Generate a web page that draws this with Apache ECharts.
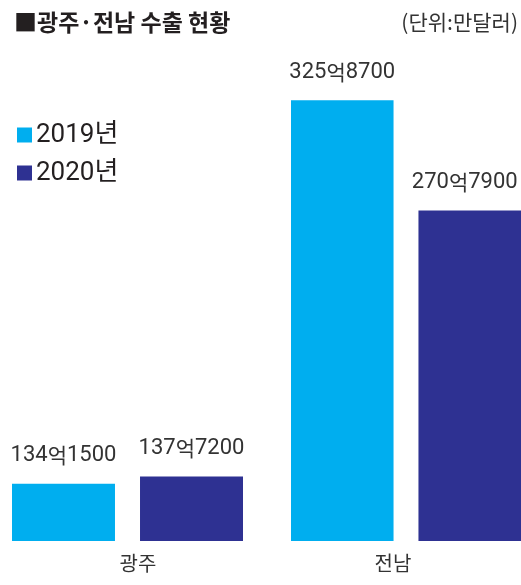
<!DOCTYPE html>
<html><head><meta charset="utf-8">
<script src="https://cdn.jsdelivr.net/npm/echarts@6/dist/echarts.min.js"></script>
<style>html,body{margin:0;padding:0;background:#fff}#c{width:521px;height:585px}</style>
</head><body><div id="c"></div>
<script>
const categories = ['광주', '전남'];
const seriesNames = ['2019년', '2020년'];
const values2019 = [1341500, 3258700];
const values2020 = [1377200, 2707900];
const colors = ['#00aeef', '#2e3192'];

const NUM = "Roboto,'Noto Sans CJK KR',sans-serif";
const KR = "'Noto Sans CJK KR',sans-serif";
const fmt = v => '{d|' + Math.floor(v / 10000) + '}{k|억}{d|' + (v % 10000) + '}';
const gridDefs = [{left: 12, width: 231}, {left: 291, width: 230}];
const labelPad = [[0, 0, 0, 21], [0, 26, 0, 0]];

const grids = [], xAxes = [], yAxes = [], series = [];
categories.forEach((cat, i) => {
  grids.push({left: gridDefs[i].left, width: gridDefs[i].width, top: 52, bottom: 44});
  xAxes.push({
    type: 'category', gridIndex: i, data: [cat],
    axisLine: {show: false}, axisTick: {show: false},
    axisLabel: {margin: 12, formatter: '{a|{value}}',
      rich: {a: {fontSize: 20, color: '#333', fontFamily: KR, padding: labelPad[i]}}}
  });
  yAxes.push({type: 'value', gridIndex: i, min: 1055000, max: 3500000, show: false, splitLine: {show: false}});
  [values2019, values2020].forEach((vals, s) => {
    series.push({
      name: seriesNames[s], type: 'bar', xAxisIndex: i, yAxisIndex: i,
      data: [vals[i]], barCategoryGap: '0%', barGap: '24.3%',
      itemStyle: {color: colors[s]},
      label: {show: true, position: 'top', distance: 17, formatter: p => fmt(p.value),
        offset: (i === 1 && s === 1) ? [-5, 0] : [0, 0],
        rich: {
          d: {fontSize: 22, color: '#333', fontFamily: NUM, verticalAlign: 'bottom'},
          k: {fontSize: 21, color: '#333', fontFamily: KR, verticalAlign: 'bottom', padding: [0, 0, 1, 0]}
        }}
    });
  });
});

const chart = echarts.init(document.getElementById('c'));
chart.setOption({
  animation: false,
  color: colors,
  title: [
    {text: '■광주·전남 수출 현황', left: 14, top: 11, padding: 0,
      textStyle: {fontSize: 23, fontWeight: 'bold', color: '#231f20', fontFamily: KR}},
    {text: '(단위:만달러)', right: 3, top: 12, padding: 0,
      textStyle: {fontSize: 21, fontWeight: 'normal', color: '#333', fontFamily: KR}}
  ],
  legend: {
    data: seriesNames, orient: 'vertical', left: 17, top: 122, padding: 0,
    icon: 'rect', itemWidth: 15, itemHeight: 15, itemGap: 12,
    textStyle: {fontSize: 26, lineHeight: 26, color: '#231f20', fontFamily: NUM, padding: [0, 0, 0, -1]}
  },
  grid: grids, xAxis: xAxes, yAxis: yAxes, series: series
});
</script></body></html>
